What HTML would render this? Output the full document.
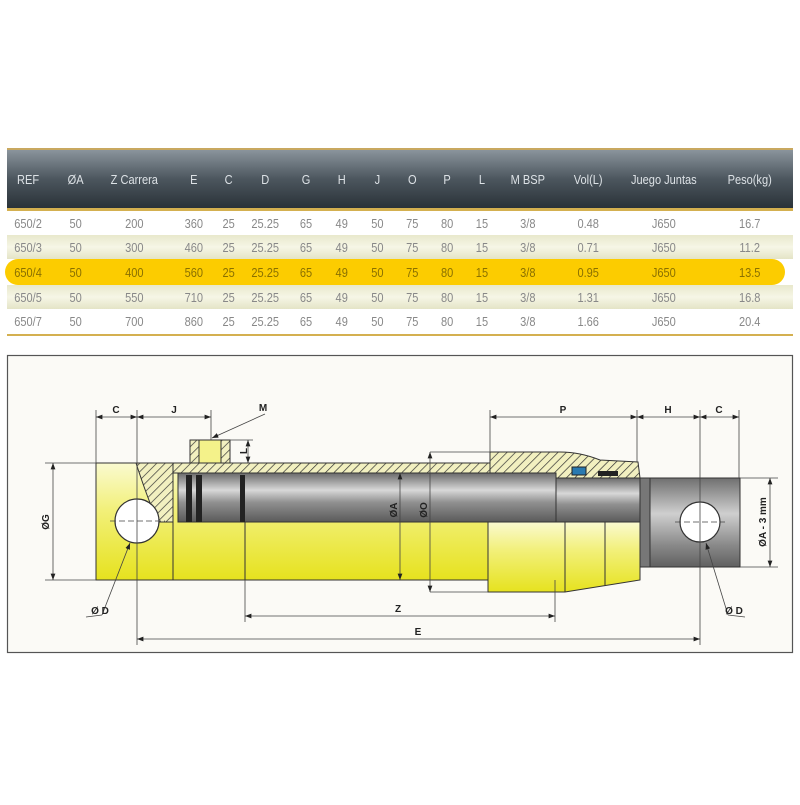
<!DOCTYPE html>
<html><head><meta charset="utf-8"><style>
body{margin:0;background:#fff;width:800px;height:800px;overflow:hidden;font-family:"Liberation Sans",sans-serif}
</style></head><body>
<svg width="800" height="800" viewBox="0 0 800 800" xmlns="http://www.w3.org/2000/svg">
<defs>
<linearGradient id="hd" x1="0" y1="0" x2="0" y2="1"><stop offset="0" stop-color="#8a949c"/><stop offset="0.5" stop-color="#4c565e"/><stop offset="1" stop-color="#2a3238"/></linearGradient>
<linearGradient id="rw" x1="0" y1="0" x2="0" y2="1"><stop offset="0" stop-color="#e8e8cc"/><stop offset="0.5" stop-color="#f6f6e6"/><stop offset="1" stop-color="#e4e4c6"/></linearGradient>
<linearGradient id="yl" x1="0" y1="0" x2="0" y2="1"><stop offset="0" stop-color="#fafad0"/><stop offset="0.4" stop-color="#f2f07a"/><stop offset="1" stop-color="#e6e21e"/></linearGradient>
<linearGradient id="gr" x1="0" y1="0" x2="0" y2="1"><stop offset="0" stop-color="#6a6a6a"/><stop offset="0.35" stop-color="#d8d8d8"/><stop offset="0.6" stop-color="#909090"/><stop offset="1" stop-color="#5a5a5a"/></linearGradient>
<linearGradient id="gr2" x1="0" y1="0" x2="0" y2="1"><stop offset="0" stop-color="#707070"/><stop offset="0.4" stop-color="#cfcfcf"/><stop offset="0.75" stop-color="#8a8a8a"/><stop offset="1" stop-color="#606060"/></linearGradient>
<pattern id="ht" width="6" height="6" patternUnits="userSpaceOnUse" patternTransform="rotate(45)"><rect width="6" height="6" fill="#f2f0c0"/><line x1="0" y1="0" x2="0" y2="6" stroke="#333" stroke-width="1.4"/></pattern>
<marker id="a" markerWidth="8" markerHeight="6" refX="8" refY="3" orient="auto-start-reverse"><path d="M0,0 L8,3 L0,6z" fill="#222"/></marker>
</defs>
<!-- table -->
<rect x="7" y="148" width="786" height="2" fill="#c8a860"/>
<rect x="7" y="150" width="786" height="58" fill="url(#hd)"/>
<rect x="7" y="208" width="786" height="3" fill="#d4b050"/>
<rect x="7" y="211" width="786" height="24" fill="#fff"/>
<rect x="7" y="235" width="786" height="24" fill="url(#rw)"/>
<rect x="7" y="259" width="786" height="26" fill="#fff"/>
<rect x="5" y="259" width="780" height="26" rx="13" fill="#fccc00"/>
<rect x="7" y="285" width="786" height="24" fill="url(#rw)"/>
<rect x="7" y="309" width="786" height="25" fill="#fff"/>
<rect x="7" y="334" width="786" height="2" fill="#d4b050"/>
<g font-size="13" fill="#dde2e6" text-anchor="middle" transform="scale(0.85,1)">
<text x="33" y="184">REF</text><text x="89" y="184">ØA</text><text x="158" y="184">Z Carrera</text><text x="228" y="184">E</text><text x="269" y="184">C</text><text x="312" y="184">D</text><text x="360" y="184">G</text><text x="402" y="184">H</text><text x="444" y="184">J</text><text x="485" y="184">O</text><text x="526" y="184">P</text><text x="567" y="184">L</text><text x="621" y="184">M BSP</text><text x="692" y="184">Vol(L)</text><text x="781" y="184">Juego Juntas</text><text x="882" y="184">Peso(kg)</text>
</g>
<g font-size="13" fill="#888" text-anchor="middle" transform="scale(0.85,1)">
<text x="33" y="228">650/2</text><text x="89" y="228">50</text><text x="158" y="228">200</text><text x="228" y="228">360</text><text x="269" y="228">25</text><text x="312" y="228">25.25</text><text x="360" y="228">65</text><text x="402" y="228">49</text><text x="444" y="228">50</text><text x="485" y="228">75</text><text x="526" y="228">80</text><text x="567" y="228">15</text><text x="621" y="228">3/8</text><text x="692" y="228">0.48</text><text x="781" y="228">J650</text><text x="882" y="228">16.7</text>
<text x="33" y="252">650/3</text><text x="89" y="252">50</text><text x="158" y="252">300</text><text x="228" y="252">460</text><text x="269" y="252">25</text><text x="312" y="252">25.25</text><text x="360" y="252">65</text><text x="402" y="252">49</text><text x="444" y="252">50</text><text x="485" y="252">75</text><text x="526" y="252">80</text><text x="567" y="252">15</text><text x="621" y="252">3/8</text><text x="692" y="252">0.71</text><text x="781" y="252">J650</text><text x="882" y="252">11.2</text>
<g fill="#8a7000">
<text x="33" y="277">650/4</text><text x="89" y="277">50</text><text x="158" y="277">400</text><text x="228" y="277">560</text><text x="269" y="277">25</text><text x="312" y="277">25.25</text><text x="360" y="277">65</text><text x="402" y="277">49</text><text x="444" y="277">50</text><text x="485" y="277">75</text><text x="526" y="277">80</text><text x="567" y="277">15</text><text x="621" y="277">3/8</text><text x="692" y="277">0.95</text><text x="781" y="277">J650</text><text x="882" y="277">13.5</text>
</g>
<text x="33" y="302">650/5</text><text x="89" y="302">50</text><text x="158" y="302">550</text><text x="228" y="302">710</text><text x="269" y="302">25</text><text x="312" y="302">25.25</text><text x="360" y="302">65</text><text x="402" y="302">49</text><text x="444" y="302">50</text><text x="485" y="302">75</text><text x="526" y="302">80</text><text x="567" y="302">15</text><text x="621" y="302">3/8</text><text x="692" y="302">1.31</text><text x="781" y="302">J650</text><text x="882" y="302">16.8</text>
<text x="33" y="326">650/7</text><text x="89" y="326">50</text><text x="158" y="326">700</text><text x="228" y="326">860</text><text x="269" y="326">25</text><text x="312" y="326">25.25</text><text x="360" y="326">65</text><text x="402" y="326">49</text><text x="444" y="326">50</text><text x="485" y="326">75</text><text x="526" y="326">80</text><text x="567" y="326">15</text><text x="621" y="326">3/8</text><text x="692" y="326">1.66</text><text x="781" y="326">J650</text><text x="882" y="326">20.4</text>
</g>
<!-- diagram box -->
<rect x="7.5" y="355.5" width="785" height="297" fill="#fbfaf6" stroke="#555" stroke-width="1.2"/>
<!-- barrel -->
<rect x="96" y="463" width="394" height="117" fill="url(#yl)" stroke="#333"/>
<rect x="96" y="463" width="77" height="117" fill="url(#yl)" stroke="#333"/>
<!-- gland lower -->
<path d="M488,522 L488,592 L565,592 L640,580 L640,522z" fill="url(#yl)" stroke="#333"/>
<line x1="565" y1="522" x2="565" y2="592" stroke="#333"/><line x1="605" y1="522" x2="605" y2="586" stroke="#333"/>
<path d="M136,463 L173,463 L173,522 L158,522 Q148,500 136,463z" fill="url(#ht)" stroke="#333"/>
<rect x="173" y="463" width="383" height="10" fill="url(#ht)" stroke="#333"/>
<path d="M490,452 L560,452 Q580,452 600,460 L638,462 L640,478 L555,478 L555,473 L490,473z" fill="url(#ht)" stroke="#333"/>
<rect x="572" y="467" width="14" height="8" fill="#2a7ab0" stroke="#222"/>
<rect x="598" y="471" width="20" height="5" fill="#222"/>
<!-- rod upper half -->
<rect x="178" y="473" width="378" height="49" fill="url(#gr)" stroke="#333"/>
<rect x="556" y="478" width="86" height="44" fill="url(#gr)" stroke="#333"/>
<line x1="178" y1="522" x2="640" y2="522" stroke="#333"/>
<rect x="186" y="475" width="6" height="47" fill="#222"/><rect x="196" y="475" width="6" height="47" fill="#222"/><rect x="240" y="475" width="5" height="47" fill="#222"/>
<line x1="173" y1="522" x2="173" y2="580" stroke="#333"/>
<line x1="245" y1="522" x2="245" y2="580" stroke="#333"/>
<!-- port -->
<rect x="190" y="440" width="40" height="23" fill="url(#ht)" stroke="#333"/>
<rect x="199" y="440" width="22" height="23" fill="#f4f28a" stroke="#333"/>
<!-- rod end -->
<rect x="640" y="478" width="10" height="89" fill="#777" stroke="#333"/>
<rect x="650" y="478" width="90" height="89" fill="url(#gr2)" stroke="#333"/>
<!-- holes -->
<circle cx="137" cy="521" r="22" fill="#fff" stroke="#333" stroke-width="1.2"/>
<circle cx="700" cy="522" r="20" fill="#fff" stroke="#333" stroke-width="1.2"/>
<!-- dimension lines -->
<g stroke="#444" stroke-width="0.8" fill="none">
<line x1="96" y1="410" x2="96" y2="463"/><line x1="137" y1="410" x2="137" y2="645"/><line x1="211" y1="410" x2="211" y2="440"/>
<line x1="96" y1="417" x2="137" y2="417" marker-start="url(#a)" marker-end="url(#a)"/>
<line x1="137" y1="417" x2="211" y2="417" marker-start="url(#a)" marker-end="url(#a)"/>
<line x1="490" y1="410" x2="490" y2="452"/><line x1="637" y1="410" x2="637" y2="462"/><line x1="700" y1="410" x2="700" y2="645"/><line x1="739" y1="410" x2="739" y2="478"/>
<line x1="490" y1="417" x2="637" y2="417" marker-start="url(#a)" marker-end="url(#a)"/>
<line x1="637" y1="417" x2="700" y2="417" marker-start="url(#a)" marker-end="url(#a)"/>
<line x1="700" y1="417" x2="739" y2="417" marker-start="url(#a)" marker-end="url(#a)"/>
<line x1="45" y1="463" x2="96" y2="463"/><line x1="45" y1="580" x2="96" y2="580"/>
<line x1="53" y1="463" x2="53" y2="580" marker-start="url(#a)" marker-end="url(#a)"/>
<line x1="740" y1="478" x2="778" y2="478"/><line x1="740" y1="567" x2="778" y2="567"/>
<line x1="770" y1="478" x2="770" y2="567" marker-start="url(#a)" marker-end="url(#a)"/>
<line x1="400" y1="473" x2="400" y2="580" marker-start="url(#a)" marker-end="url(#a)"/>
<line x1="430" y1="452" x2="430" y2="592" marker-start="url(#a)" marker-end="url(#a)"/>
<line x1="430" y1="452" x2="490" y2="452"/><line x1="430" y1="592" x2="488" y2="592"/>
<line x1="245" y1="580" x2="245" y2="622"/><line x1="555" y1="580" x2="555" y2="622"/>
<line x1="245" y1="616" x2="555" y2="616" marker-start="url(#a)" marker-end="url(#a)"/>
<line x1="137" y1="639" x2="700" y2="639" marker-start="url(#a)" marker-end="url(#a)"/>
<line x1="230" y1="440" x2="253" y2="440"/><line x1="230" y1="463" x2="253" y2="463"/>
<line x1="248" y1="440" x2="248" y2="463" marker-start="url(#a)" marker-end="url(#a)"/>
<line x1="265" y1="414" x2="212" y2="438" marker-end="url(#a)"/>
<line x1="102" y1="615" x2="130" y2="543" marker-end="url(#a)"/><line x1="86" y1="617" x2="102" y2="615"/>
<line x1="728" y1="615" x2="706" y2="543" marker-end="url(#a)"/><line x1="728" y1="615" x2="745" y2="617"/>
<line x1="110" y1="521" x2="165" y2="521" stroke-dasharray="6 3"/>
<line x1="675" y1="522" x2="725" y2="522" stroke-dasharray="6 3"/>
</g>
<g font-size="10" font-weight="bold" fill="#222" text-anchor="middle">
<text x="116" y="413">C</text><text x="174" y="413">J</text><text x="563" y="413">P</text><text x="668" y="413">H</text><text x="719" y="413">C</text>
<text x="263" y="411">M</text><text x="100" y="614">Ø D</text><text x="734" y="614">Ø D</text>
<text x="398" y="612">Z</text><text x="418" y="635">E</text>
<text transform="translate(49,522) rotate(-90)">ØG</text>
<text transform="translate(397,510) rotate(-90)">ØA</text>
<text transform="translate(427,510) rotate(-90)">ØO</text>
<text transform="translate(766,522) rotate(-90)">ØA - 3 mm</text>
<text transform="translate(247,451) rotate(-90)">L</text>
</g>
</svg>
</body></html>
